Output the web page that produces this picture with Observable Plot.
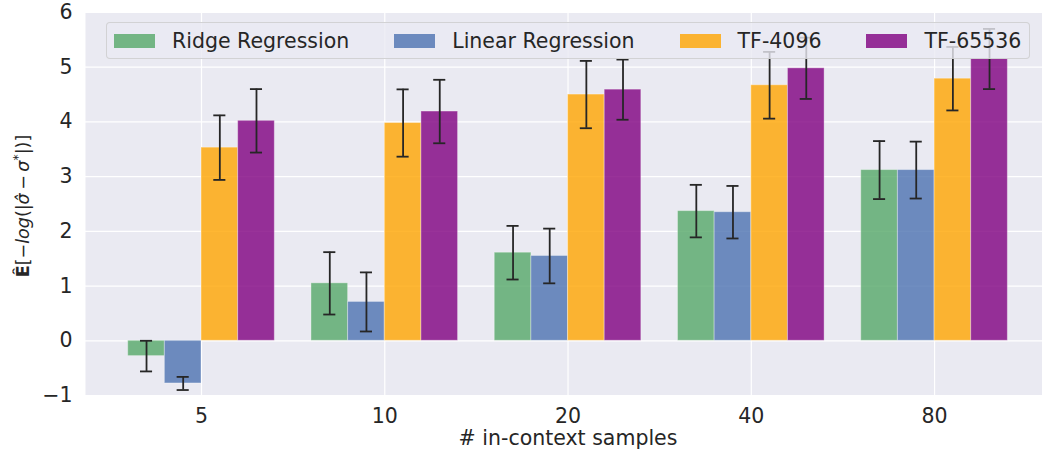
<!DOCTYPE html>
<html>
<head>
<meta charset="utf-8">
<script src="https://cdn.jsdelivr.net/npm/d3@7"></script>
<script src="https://cdn.jsdelivr.net/npm/@observablehq/plot@0.6"></script>
<style>
  html, body { margin: 0; padding: 0; background: #ffffff; }
  #wrap { position: relative; width: 1042px; height: 452px; font-family: "DejaVu Sans", sans-serif; color: #262626; }
  #legend { position: absolute; left: 106px; top: 22px; height: 37px; box-sizing: border-box; width: 924px;
            background: rgba(234,234,242,0.8); border: 1px solid rgba(204,204,204,0.8); border-radius: 4px;
            display: flex; align-items: center; padding-left: 7px; gap: 45px; font-size: 20.5px; }
  .item { display: flex; align-items: center; white-space: nowrap; }
  .sw { width: 41px; height: 14px; margin-right: 17px; }
</style>
</head>
<body>
<div id="wrap"></div>
<script>
// ---- data ----
const categories = ["5", "10", "20", "40", "80"];
const seriesNames = ["Ridge Regression", "Linear Regression", "TF-4096", "TF-65536"];
const ridgeValues   = [-0.28, 1.05, 1.61, 2.37, 3.12];
const ridgeErrors   = [0.28, 0.57, 0.49, 0.48, 0.53];
const linearValues  = [-0.78, 0.71, 1.55, 2.35, 3.12];
const linearErrors  = [0.12, 0.54, 0.50, 0.48, 0.52];
const tf4096Values  = [3.53, 3.98, 4.50, 4.67, 4.79];
const tf4096Errors  = [0.59, 0.615, 0.615, 0.61, 0.58];
const tf65536Values = [4.02, 4.19, 4.59, 4.98, 5.15];
const tf65536Errors = [0.58, 0.58, 0.55, 0.56, 0.55];
const yTicks = [-1, 0, 1, 2, 3, 4, 5, 6];
const seriesColors = ["#55a868", "#4c72b0", "#ffa500", "#800080"];

// ---- build table ----
const allValues = [ridgeValues, linearValues, tf4096Values, tf65536Values];
const allErrors = [ridgeErrors, linearErrors, tf4096Errors, tf65536Errors];
const barW = 0.2;
const rows = [];
seriesNames.forEach((s, si) => {
  categories.forEach((c, ci) => {
    const pos = ci + (si - 1.5) * barW;
    rows.push({series: s, cat: c, pos, x1: pos - barW / 2, x2: pos + barW / 2,
               value: allValues[si][ci], lo: allValues[si][ci] - allErrors[si][ci], hi: allValues[si][ci] + allErrors[si][ci]});
  });
});
const caps = rows.flatMap(d => [{pos: d.pos, y: d.lo}, {pos: d.pos, y: d.hi}]);
const capHalf = 0.033;

const textColor = "#262626";
const fs = 20.5;
const chart = Plot.plot({
  width: 1042,
  height: 452,
  marginLeft: 85,
  marginRight: 0,
  marginTop: 12,
  marginBottom: 57,
  style: {fontFamily: "DejaVu Sans, sans-serif", fontSize: fs + "px", color: textColor, background: "transparent", overflow: "visible"},
  x: {type: "linear", domain: [-0.633, 4.589]},
  y: {domain: [-1, 6]},
  color: {domain: seriesNames, range: seriesColors},
  marks: [
    Plot.frame({fill: "#eaeaf2", stroke: null}),
    Plot.gridY(yTicks, {stroke: "white", strokeOpacity: 1, strokeWidth: 1.2}),
    Plot.gridX(d3.range(categories.length), {stroke: "white", strokeOpacity: 1, strokeWidth: 1.2}),
    Plot.axisY(yTicks, {tickSize: 0, tickPadding: 13, label: null, fontSize: fs, fill: textColor,
      tickFormat: d => String(d).replace("-", "\u2212")}),
    Plot.axisX(d3.range(categories.length), {tickSize: 0, tickPadding: 13, label: null, fontSize: fs, fill: textColor,
      tickFormat: i => categories[i]}),
    Plot.rectY(rows, {x1: "x1", x2: "x2", y1: 0, y2: "value", fill: "series", fillOpacity: 0.8,
      stroke: "white", strokeOpacity: 0.35, strokeWidth: 1}),
    Plot.ruleX(rows, {x: "pos", y1: "lo", y2: "hi", stroke: textColor, strokeWidth: 1.8}),
    Plot.ruleY(caps, {y: "y", x1: d => d.pos - capHalf, x2: d => d.pos + capHalf, stroke: textColor, strokeWidth: 1.8}),
    Plot.text(["# in-context samples"], {frameAnchor: "bottom", dy: 43, dx: 4, lineAnchor: "middle",
      fontSize: fs, fill: textColor})
  ]
});

const wrap = document.getElementById("wrap");
wrap.appendChild(chart);

// rotated mathtext-like y-axis label
const svg = d3.select(chart);
const lab = svg.append("text")
  .attr("transform", "translate(29,206) rotate(-90)")
  .attr("text-anchor", "middle")
  .attr("fill", textColor)
  .attr("font-size", 17.5)
  .attr("font-family", "DejaVu Sans, sans-serif");
lab.append("tspan").attr("font-weight", "bold").text("\u00CA");
lab.append("tspan").text("[\u2212");
lab.append("tspan").attr("font-style", "italic").text("log");
lab.append("tspan").text("(|");
lab.append("tspan").attr("font-style", "italic").text("\u03C3\u0302");
lab.append("tspan").text("\u2009\u2212\u2009");
lab.append("tspan").attr("font-style", "italic").text("\u03C3");
lab.append("tspan").attr("font-size", 12.5).attr("dy", -7).text("*");
lab.append("tspan").attr("dy", 7).text("|)]");

// legend overlay
const legend = document.createElement("div");
legend.id = "legend";
seriesNames.forEach((s, i) => {
  const item = document.createElement("div");
  item.className = "item";
  const sw = document.createElement("div");
  sw.className = "sw";
  sw.style.background = seriesColors[i];
  sw.style.opacity = 0.8;
  const t = document.createElement("span");
  t.textContent = s;
  item.appendChild(sw);
  item.appendChild(t);
  legend.appendChild(item);
});
wrap.appendChild(legend);
</script>
</body>
</html>
